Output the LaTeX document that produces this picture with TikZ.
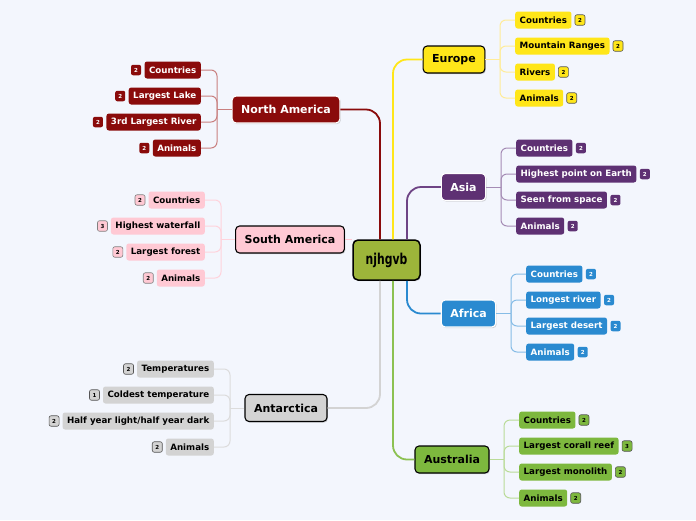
\documentclass[tikz,border=0pt]{standalone}
\usepackage{fontspec}
\setmainfont{DejaVu Sans}
\newfontfamily\cfont[FakeStretch=0.72]{DejaVu Sans}
\usetikzlibrary{shadows}
\definecolor{bg}{HTML}{F3F6FD}
\definecolor{cgreen}{HTML}{9DB53A}
\definecolor{euc}{HTML}{FFE619}
\definecolor{eul}{HTML}{FFEC99}
\definecolor{asc}{HTML}{5E3173}
\definecolor{asl}{HTML}{A58CB5}
\definecolor{asm}{HTML}{6E4485}
\definecolor{afc}{HTML}{2A8AD0}
\definecolor{afl}{HTML}{86BCE6}
\definecolor{auc}{HTML}{7DB83E}
\definecolor{aul}{HTML}{BADB98}
\definecolor{aum}{HTML}{8CC152}
\definecolor{nac}{HTML}{8A0B0B}
\definecolor{nal}{HTML}{C98080}
\definecolor{sac}{HTML}{FFC9D4}
\definecolor{sal}{HTML}{FFD3DC}
\definecolor{anc}{HTML}{D3D3D3}
\definecolor{anl}{HTML}{DCDCDC}
\definecolor{bdr}{HTML}{555555}
\newcommand\hyl{Half year light/half year dark}
\begin{document}
\begin{tikzpicture}[x=1pt,y=-1pt,
  mainbox/.style={rounded corners=4pt, minimum height=27pt, inner xsep=9pt, inner ysep=0pt,
    font=\fontsize{11}{13}\selectfont\bfseries, line width=1.1pt,
    drop shadow={shadow xshift=1pt,shadow yshift=-1.2pt,opacity=0.3}},
  childbox/.style={rounded corners=2.5pt, minimum height=17pt, inner xsep=4.5pt, inner ysep=0pt,
    font=\fontsize{8.7}{10}\selectfont\bfseries},
  badgebox/.style={rounded corners=2pt, minimum width=10pt, minimum height=10.5pt, inner sep=0pt,
    font=\fontsize{5.5}{6}\selectfont\bfseries, line width=0.6pt},
  maincon/.style={line width=1.8pt, rounded corners=14pt},
  subcon/.style={line width=1pt, rounded corners=6pt}]
\useasboundingbox (0,0) rectangle (696,520);
\fill[bg] (0,0) rectangle (696,520);

% central
\node[draw=black, fill=cgreen, line width=1.5pt, rounded corners=5pt, minimum width=67pt, minimum height=40pt,
  inner sep=0pt, font=\cfont\fontsize{15}{17}\selectfont\bfseries,
  drop shadow={shadow xshift=1pt,shadow yshift=-1.2pt,opacity=0.3}] (c) at (386.5,260) {njhgvb};

% main nodes
\node[mainbox, draw=black, fill=euc] (eu) at (454,59.5) {Europe};
\node[mainbox, draw=white, fill=asc, text=white] (as) at (463.5,187) {Asia};
\node[mainbox, draw=white, fill=afc, text=white] (af) at (468.5,313.5) {Africa};
\node[mainbox, draw=black, fill=auc] (au) at (452,459.5) {Australia};
\node[mainbox, draw=white, fill=nac, text=white] (na) at (286,109.5) {North America};
\node[mainbox, draw=black, fill=sac] (sa) at (290,239.5) {South America};
\node[mainbox, draw=black, fill=anc] (an) at (286,408) {Antarctica};

% main connectors
\draw[maincon, nac] ([xshift=-6.5pt]c.north) |- (na.east);
\draw[maincon, euc] ([xshift=6.5pt]c.north) |- (eu.west);
\draw[maincon, asm] ([xshift=20.5pt]c.north) |- (as.west);
\draw[line width=1pt, sac] (sa.east) -- (sa.east -| c.west);
\draw[maincon, afc] ([xshift=20.5pt]c.south) |- (af.west);
\draw[maincon, anc] ([xshift=-6.5pt]c.south) |- (an.east);
\draw[maincon, aum] ([xshift=6.5pt]c.south) |- (au.west);

% branch points
\coordinate (eubr) at (500,59.5);
\coordinate (asbr) at (501,187);
\coordinate (afbr) at (511,313.5);
\coordinate (aubr) at (504,459.5);
\coordinate (nabr) at (217,109.5);
\coordinate (sabr) at (221,239.5);
\coordinate (anbr) at (230,408);
\draw[subcon, eul] (eu.east) -- (eubr);
\draw[subcon, asl] (as.east) -- (asbr);
\draw[subcon, afl] (af.east) -- (afbr);
\draw[subcon, aul] (au.east) -- (aubr);
\draw[subcon, nal] (na.west) -- (nabr);
\draw[subcon, sal] (sa.west) -- (sabr);
\draw[subcon, anl] (an.west) -- (anbr);

% Europe
\foreach \t/\b [count=\i] in {Countries/2, Mountain Ranges/2, Rivers/2, Animals/2} {
  \node[childbox, fill=euc, anchor=west] (eu\i) at (515,{20+26*(\i-1)}) {\t};
  \node[badgebox, fill=euc, draw=bdr, anchor=west] (eub\i) at ([xshift=3pt]eu\i.east) {\b};
  \draw[subcon, eul] (eubr) |- (eu\i.west);
}
% Asia
\foreach \t/\b [count=\i] in {Countries/2, Highest point on Earth/2, Seen from space/2, Animals/2} {
  \node[childbox, fill=asc, text=white, anchor=west] (as\i) at (516,{148+26*(\i-1)}) {\t};
  \node[badgebox, fill=asc, text=white, anchor=west] (asb\i) at ([xshift=3pt]as\i.east) {\b};
  \draw[subcon, asl] (asbr) |- (as\i.west);
}
% Africa
\foreach \t/\b [count=\i] in {Countries/2, Longest river/2, Largest desert/2, Animals/2} {
  \node[childbox, fill=afc, text=white, anchor=west] (af\i) at (526,{274+26*(\i-1)}) {\t};
  \node[badgebox, fill=afc, text=white, anchor=west] (afb\i) at ([xshift=3pt]af\i.east) {\b};
  \draw[subcon, afl] (afbr) |- (af\i.west);
}
% Australia
\foreach \t/\b [count=\i] in {Countries/2, Largest corall reef/3, Largest monolith/2, Animals/2} {
  \node[childbox, fill=auc, anchor=west] (au\i) at (519,{420+26*(\i-1)}) {\t};
  \node[badgebox, fill=auc, draw=bdr, anchor=west] (aub\i) at ([xshift=3pt]au\i.east) {\b};
  \draw[subcon, aul] (aubr) |- (au\i.west);
}
% North America
\foreach \t/\b [count=\i] in {Countries/2, Largest Lake/2, 3rd Largest River/2, Animals/2} {
  \node[childbox, fill=nac, text=white, anchor=east] (na\i) at (201,{70+26*(\i-1)}) {\t};
  \node[badgebox, fill=nac, text=white, anchor=east] (nab\i) at ([xshift=-3pt]na\i.west) {\b};
  \draw[subcon, nal] (nabr) |- (na\i.east);
}
% South America
\foreach \t/\b [count=\i] in {Countries/2, Highest waterfall/3, Largest forest/2, Animals/2} {
  \node[childbox, fill=sac, anchor=east] (sa\i) at (205,{200+26*(\i-1)}) {\t};
  \node[badgebox, fill=sac, draw=gray, anchor=east] (sab\i) at ([xshift=-3pt]sa\i.west) {\b};
  \draw[subcon, sal] (sabr) |- (sa\i.east);
}
% Antarctica
\foreach \t/\b [count=\i] in {Temperatures/2, Coldest temperature/1, \hyl/2, Animals/2} {
  \node[childbox, fill=anc, anchor=east] (an\i) at (214,{369+26*(\i-1)}) {\t};
  \node[badgebox, fill=anc, draw=bdr, anchor=east] (anb\i) at ([xshift=-3pt]an\i.west) {\b};
  \draw[subcon, anl] (anbr) |- (an\i.east);
}
\end{tikzpicture}
\end{document}
